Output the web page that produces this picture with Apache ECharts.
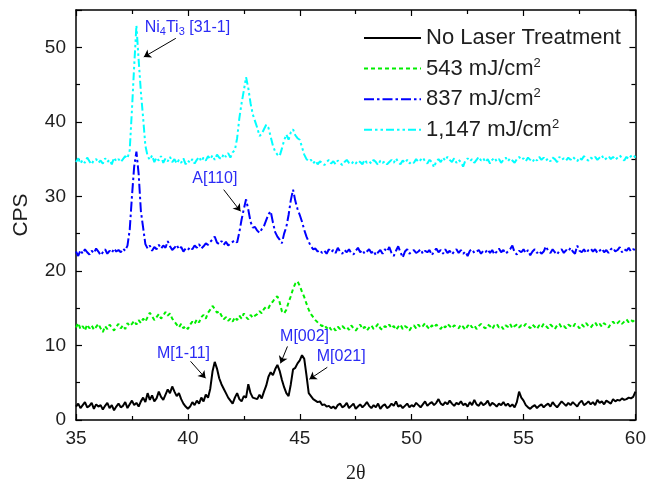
<!DOCTYPE html>
<html>
<head>
<meta charset="utf-8">
<script src="https://cdn.jsdelivr.net/npm/echarts@6/dist/echarts.min.js"></script>
<style>
  html, body { margin: 0; padding: 0; background: #fff; }
  #chart { width: 649px; height: 489px; }
</style>
</head>
<body>
<div id="chart"></div>
<script>
// XRD scans, 2θ from 35° to 60° sampled every 0.1°
const twoThetaStart = 35;
const twoThetaStep = 0.1;

const noLaser = [
  1.8,2.2,1.6,2.0,2.4,1.7,1.9,2.3,1.5,2.1,1.8,
  2.0,1.4,1.9,2.3,1.6,2.0,1.3,1.8,2.2,1.7,
  1.9,2.4,1.6,2.1,2.6,2.0,2.3,1.8,2.5,3.0,
  2.4,3.6,2.7,3.3,2.5,2.9,3.8,3.1,2.7,3.4,
  4.1,3.6,4.5,3.8,3.2,3.6,2.8,2.2,1.8,1.5,
  1.8,2.4,2.0,2.6,2.2,3.0,2.5,3.4,3.0,4.2,
  6.5,7.8,6.9,5.6,4.8,4.2,3.6,3.0,2.6,2.2,
  3.0,3.6,2.8,2.5,3.2,3.0,4.8,3.6,3.0,2.9,
  2.8,3.4,2.9,3.8,4.6,5.8,6.4,6.0,6.8,7.4,
  6.6,5.4,4.4,3.6,3.2,4.8,6.8,7.0,7.6,8.0,
  8.7,8.2,6.0,3.6,3.2,2.8,2.6,2.4,2.5,2.0,
  2.1,1.8,1.9,1.6,1.8,1.5,2.0,2.2,1.7,1.9,
  2.3,1.6,1.9,2.2,1.5,1.8,2.1,1.7,2.0,2.4,
  1.9,1.6,2.0,1.7,2.2,1.5,1.9,2.1,1.6,1.8,
  2.2,1.9,2.5,1.8,2.0,1.6,1.9,2.2,1.7,2.0,
  1.8,2.3,2.0,1.7,2.1,2.5,1.9,2.2,2.4,2.0,
  2.3,2.8,2.2,2.0,2.4,2.1,2.6,2.2,1.9,2.3,
  2.1,2.5,2.0,2.2,1.8,2.4,2.0,2.7,2.1,1.9,
  2.4,2.0,2.2,2.6,1.9,2.3,2.1,1.8,2.2,2.0,
  2.4,1.9,2.2,1.8,2.1,1.7,2.4,3.8,3.0,2.6,
  2.0,1.7,1.5,1.8,2.0,1.6,1.9,2.1,1.7,2.0,
  2.2,1.8,2.4,2.0,1.7,2.1,2.5,2.2,1.9,2.3,
  2.0,2.4,2.1,1.8,2.3,2.6,2.0,2.2,2.5,2.1,
  2.4,2.0,2.7,2.3,2.5,2.1,2.6,2.4,2.2,2.8,
  2.5,2.7,2.6,2.9,2.7,2.8,3.0,2.9,3.1,3.8
];

const fluence543 = [
  12.4,13.0,12.2,12.6,12.0,12.8,12.3,12.7,12.1,12.5,12.9,
  12.3,11.8,12.6,12.2,12.8,12.4,12.0,12.5,12.9,12.3,
  12.7,12.2,13.0,12.6,12.9,13.3,12.8,13.4,13.0,13.6,
  13.2,13.8,14.4,13.9,13.4,13.8,14.2,13.6,14.0,14.5,
  14.0,14.3,13.6,13.2,12.8,12.4,12.9,12.3,12.6,12.2,
  12.8,13.2,12.9,13.5,13.1,13.8,14.1,13.6,14.4,14.8,
  15.3,14.9,14.4,14.6,14.0,13.5,13.8,13.3,13.6,13.2,
  13.8,13.4,14.0,13.6,14.3,13.8,13.5,14.1,13.7,14.0,
  14.2,14.6,14.3,14.9,15.2,15.0,15.6,15.9,16.4,16.6,
  15.8,14.6,14.3,14.8,15.8,16.6,17.6,18.3,18.6,18.0,
  17.2,16.5,15.6,14.8,14.2,13.8,13.4,13.1,12.8,12.6,
  12.8,12.3,12.6,12.1,12.4,12.0,12.5,12.2,12.6,12.3,
  12.5,12.1,12.7,12.3,12.0,12.4,12.8,12.2,12.5,12.0,
  12.4,12.7,12.2,12.5,12.9,12.3,12.1,12.6,12.4,12.8,
  12.3,12.6,12.1,12.5,12.8,12.2,12.6,12.4,12.0,12.5,
  12.7,12.3,12.8,12.4,12.6,13.0,12.5,12.2,12.7,12.4,
  12.8,12.5,12.2,12.7,12.4,12.9,12.6,12.3,12.7,12.5,
  12.3,12.8,12.5,12.1,12.6,12.9,12.4,12.7,12.2,12.6,
  12.9,12.5,12.3,12.8,12.6,12.2,12.7,12.9,12.4,12.6,
  12.2,12.7,12.5,12.9,12.3,12.6,12.8,12.4,12.7,12.5,
  12.9,12.6,12.3,12.8,12.5,12.2,12.7,12.4,12.9,12.6,
  12.3,12.8,12.5,12.2,12.7,12.9,12.4,12.6,12.3,12.8,
  12.6,12.4,12.9,12.7,12.3,12.8,12.5,13.0,12.6,12.4,
  12.8,13.1,12.6,12.9,12.5,13.0,12.7,12.4,12.9,13.2,
  12.8,13.0,13.3,12.9,13.2,13.5,13.1,13.4,13.2,13.7
];

const fluence837 = [
  22.6,22.0,22.8,22.3,22.9,22.5,22.2,22.7,22.4,23.0,22.6,
  22.1,22.5,22.9,22.3,22.7,22.4,23.0,22.6,22.8,22.5,
  23.0,22.7,23.4,25.5,30.0,34.0,36.0,33.0,28.0,25.8,
  23.6,23.0,23.4,22.7,23.2,22.9,23.5,23.0,23.4,23.1,
  24.0,23.3,22.8,23.1,23.5,22.9,23.2,22.6,23.0,22.8,
  23.2,22.9,23.4,23.1,23.6,23.0,23.3,23.7,23.5,23.9,
  24.2,24.6,23.8,23.6,24.0,23.5,23.9,23.4,23.7,23.9,
  24.1,23.8,25.2,26.9,28.3,29.6,28.2,26.6,25.8,25.9,
  25.4,25.1,25.6,26.0,26.8,27.6,28.0,26.5,25.2,24.6,
  24.2,23.7,25.0,25.9,27.5,29.5,30.9,29.4,28.3,27.5,
  26.6,25.5,24.6,23.9,23.3,22.9,23.0,22.6,22.8,22.4,
  22.7,22.3,22.9,22.5,22.8,22.4,23.1,22.6,22.3,22.8,
  22.5,22.9,22.4,22.2,22.7,23.1,22.5,22.8,22.3,22.6,
  22.9,22.4,22.7,22.1,22.5,22.8,22.3,22.9,22.6,23.2,
  22.4,22.0,22.7,23.3,22.5,21.8,22.6,22.9,22.3,22.6,
  22.8,22.4,22.6,22.9,22.3,22.7,22.5,22.8,22.1,22.6,
  23.0,22.5,22.8,22.3,22.9,22.4,22.7,22.2,22.6,22.9,
  22.4,22.8,22.3,22.6,22.0,22.7,22.9,22.4,22.6,22.8,
  22.3,22.7,22.5,22.9,22.4,22.8,22.2,22.6,23.0,22.5,
  22.8,22.3,22.6,22.9,23.4,22.5,22.2,22.7,22.5,22.9,
  22.4,22.8,22.1,22.6,22.9,22.4,22.7,22.3,22.6,23.3,
  22.7,22.4,22.9,22.5,22.2,22.7,22.9,22.4,22.8,22.6,
  23.1,22.6,22.3,23.4,22.7,22.5,22.9,22.4,22.8,23.0,
  22.6,22.9,22.4,22.7,23.0,22.5,22.8,22.4,22.9,23.1,
  22.6,22.8,23.2,22.5,22.9,22.7,23.1,22.6,22.9,22.8
];

const fluence1147 = [
  34.6,35.1,34.4,34.9,34.5,35.2,34.7,34.3,34.9,35.0,34.5,
  34.8,34.4,35.1,34.6,34.9,34.3,35.2,34.7,35.0,34.6,
  35.0,35.4,35.1,36.2,41.6,47.5,52.9,48.3,44.0,40.5,
  36.8,35.4,34.9,35.5,34.6,35.2,34.8,35.4,34.5,35.1,
  34.7,35.3,34.6,35.0,34.4,34.9,34.5,35.1,34.3,34.8,
  34.5,35.0,34.4,34.9,35.3,34.7,35.2,34.8,35.4,35.0,
  35.5,34.9,35.6,35.2,35.0,35.7,35.3,35.8,35.2,35.9,
  36.2,37.8,40.5,42.5,44.2,46.0,44.5,42.5,41.0,40.1,
  39.2,38.1,38.4,39.0,39.6,39.2,38.0,36.8,36.0,35.6,
  35.4,36.4,37.5,38.3,37.6,38.6,39.0,38.2,37.8,37.6,
  36.6,35.6,35.0,34.7,34.9,34.4,34.8,34.3,34.7,34.5,
  34.2,34.6,34.9,34.4,34.7,34.3,34.8,34.5,34.2,34.6,
  34.9,34.5,34.3,34.7,34.4,34.8,34.6,34.3,34.9,34.5,
  34.7,34.4,34.9,34.6,34.2,34.8,34.5,34.7,34.3,34.6,
  34.9,34.5,35.1,34.6,34.3,34.8,34.5,34.9,34.4,34.7,
  34.5,35.0,34.6,34.9,35.2,34.7,34.4,34.9,34.6,33.9,
  34.7,35.0,34.6,35.2,34.8,35.3,34.9,34.6,35.1,34.5,
  34.9,34.6,34.0,34.8,35.1,34.7,35.0,34.5,34.9,35.3,
  34.8,35.1,34.6,35.0,34.4,34.9,35.2,34.7,35.0,34.5,
  34.9,35.2,34.7,35.1,34.8,34.5,35.0,35.3,34.9,35.1,
  34.7,35.2,34.9,34.6,35.1,34.8,35.3,34.9,35.2,34.8,
  35.1,34.7,35.2,35.0,34.6,35.3,34.9,35.1,34.8,35.2,
  34.9,35.3,35.0,34.7,35.2,34.9,35.4,35.0,34.8,35.2,
  35.0,35.3,34.9,35.2,35.5,34.9,35.1,35.4,35.0,35.3,
  34.9,35.2,35.5,35.1,34.8,35.3,35.0,35.4,35.6,35.2
];

const seriesNames = ['No Laser Treatment', '543 mJ/cm2', '837 mJ/cm2', '1,147 mJ/cm2'];
const seriesColors = ['#000000', '#00ee00', '#0000ff', '#00ffff'];
const seriesDashes = ['solid', [4, 3], [10, 3, 2.5, 3], [8, 3, 2.5, 3, 2.5, 3]];

// Peak annotations: label text, label anchor [2θ, CPS], arrow tail and head [2θ, CPS]
const peakLabels = ['{a|Ni}{b|4}{a|Ti}{b|3}{a| [31-1]}', 'A[110]', 'M[1-11]', 'M[002]', 'M[021]'];
const labelAnchors = [[38.07, 52.6], [40.2, 32.4], [38.62, 8.95], [44.12, 11.25], [45.76, 8.55]];
const arrowTails = [[39.46, 51.2], [41.6, 30.9], [40.12, 7.87], [44.45, 9.87], [46.23, 7.07]];
const arrowHeads = [[38.03, 48.7], [42.35, 28.0], [40.79, 5.6], [44.14, 7.6], [45.43, 5.47]];

function pairs(values) {
  return values.map((v, i) => [(twoThetaStart * 10 + i * twoThetaStep * 10) / 10, v]);
}

const textColor = '#1e1e1e';
const fontFamily = 'Liberation Sans, Arial, sans-serif';
const annColor = '#2b2bf5';

const chart = echarts.init(document.getElementById('chart'), null, { renderer: 'canvas' });

const baseX = {
  type: 'value', min: 35, max: 60, interval: 5,
  splitLine: { show: false },
  axisLine: { show: true, onZero: false, lineStyle: { color: '#000', width: 1.5 } },
  axisTick: { show: true, inside: true, length: 6, lineStyle: { color: '#000', width: 1.2 } },
  minorTick: { show: true, splitNumber: 2, length: 4, lineStyle: { color: '#000', width: 1.2 } }
};
const baseY = {
  type: 'value', min: 0, max: 55, interval: 10,
  splitLine: { show: false },
  axisLine: { show: true, onZero: false, lineStyle: { color: '#000', width: 1.5 } },
  axisTick: { show: true, inside: true, length: 6, lineStyle: { color: '#000', width: 1.2 } },
  minorTick: { show: true, splitNumber: 2, length: 4, lineStyle: { color: '#000', width: 1.2 } }
};

const dataSeries = [noLaser, fluence543, fluence837, fluence1147].map((vals, k) => ({
  name: seriesNames[k],
  type: 'line',
  data: pairs(vals),
  showSymbol: false,
  symbol: 'none',
  smooth: false,
  z: 3 + k,
  lineStyle: { color: seriesColors[k], width: 2, type: seriesDashes[k] },
  itemStyle: { color: seriesColors[k] }
}));

const annotationSeries = {
  name: 'annotations',
  type: 'line',
  data: [],
  z: 10,
  markLine: {
    silent: true,
    symbol: ['none', 'arrow'],
    symbolSize: 7,
    label: { show: false },
    lineStyle: { color: '#000', width: 1, type: 'solid' },
    itemStyle: { color: '#000' },
    data: arrowTails.map((t, i) => [{ coord: t }, { coord: arrowHeads[i] }])
  },
  markPoint: {
    silent: true,
    symbol: 'rect',
    symbolSize: 0,
    data: labelAnchors.map((c, i) => ({
      coord: c,
      label: {
        show: true,
        position: [0, 0],
        align: 'left',
        verticalAlign: 'middle',
        formatter: peakLabels[i],
        color: annColor,
        fontSize: 16,
        fontFamily: fontFamily,
        rich: {
          a: { color: annColor, fontSize: 16, fontFamily: fontFamily },
          b: { color: annColor, fontSize: 11, fontFamily: fontFamily, verticalAlign: 'bottom', padding: [8, 0, 0, 0] }
        }
      }
    }))
  }
};

chart.setOption({
  animation: false,
  backgroundColor: '#fff',
  grid: { left: 76, right: 12, top: 10, bottom: 67, containLabel: false },
  legend: {
    data: seriesNames,
    orient: 'vertical',
    left: 363,
    top: 27,
    padding: 0,
    itemWidth: 57,
    itemHeight: 14,
    itemGap: 7.6,
    itemStyle: { opacity: 0 },
    formatter: function (name) {
      if (name.endsWith('cm2')) return '{t|' + name.slice(0, -1) + '}{s|2}';
      return '{t|' + name + '}';
    },
    textStyle: {
      color: textColor,
      fontSize: 22,
      fontFamily: fontFamily,
      rich: {
        t: { fontSize: 22, color: textColor, fontFamily: fontFamily, lineHeight: 24 },
        s: { fontSize: 13, color: textColor, fontFamily: fontFamily, verticalAlign: 'top' }
      }
    }
  },
  xAxis: [
    Object.assign({}, baseX, {
      position: 'bottom',
      name: '2θ', nameLocation: 'middle', nameGap: 44,
      nameTextStyle: { color: textColor, fontSize: 20, fontFamily: 'Liberation Serif, Times New Roman, serif' },
      axisLabel: { color: textColor, fontSize: 19, fontFamily: fontFamily, margin: 9 }
    }),
    Object.assign({}, baseX, { position: 'top', axisLabel: { show: false } })
  ],
  yAxis: [
    Object.assign({}, baseY, {
      position: 'left',
      name: 'CPS', nameLocation: 'middle', nameGap: 44,
      nameTextStyle: { color: textColor, fontSize: 21, fontFamily: fontFamily },
      axisLabel: { color: textColor, fontSize: 19, fontFamily: fontFamily, margin: 10, showMaxLabel: false }
    }),
    Object.assign({}, baseY, { position: 'right', axisLabel: { show: false } })
  ],
  series: dataSeries.concat([annotationSeries])
});
</script>
</body>
</html>
